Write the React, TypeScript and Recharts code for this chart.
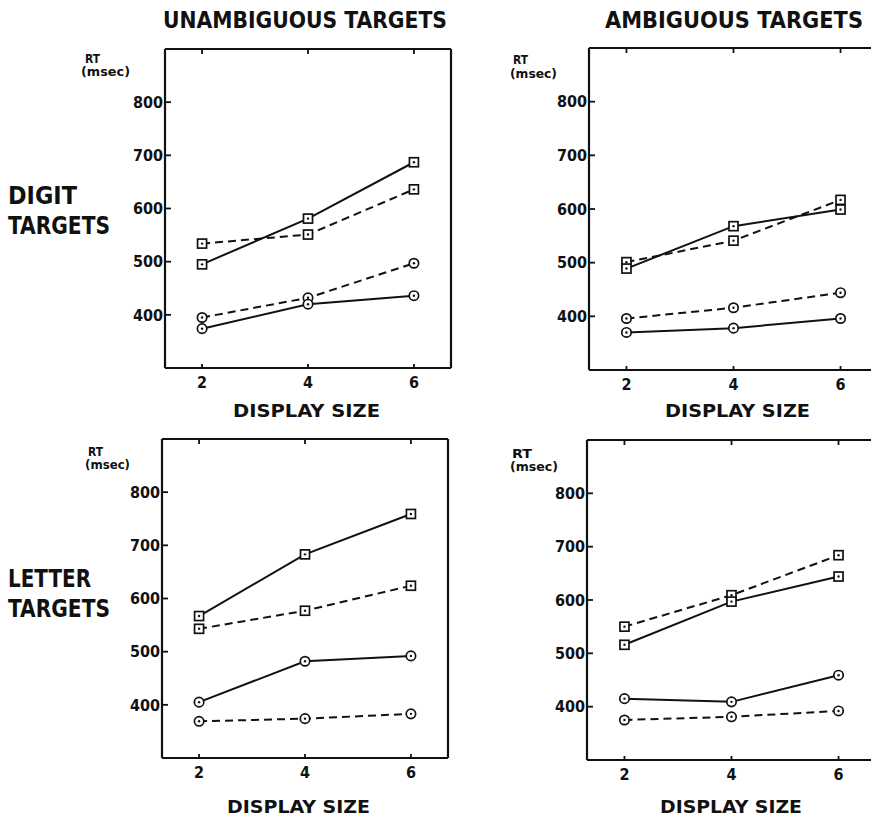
import { Line, LineChart, XAxis, YAxis } from "recharts";

const INK = "#111";
const FONT = '"DejaVu Sans Condensed", "Liberation Sans Narrow", "DejaVu Sans", sans-serif';

const DISPLAY_SIZES = [2, 4, 6];
const RT_TICKS = [400, 500, 600, 700, 800];
const X_DOMAIN = [1.3, 6.7];
const RT_DOMAIN = [300, 900];

// unambiguous targets, digits
const UD_SQUARE_SOLID = [495, 581, 687];
const UD_SQUARE_DASHED = [534, 551, 636];
const UD_CIRCLE_SOLID = [374, 420, 436];
const UD_CIRCLE_DASHED = [395, 432, 497];

// ambiguous targets, digits
const AD_SQUARE_SOLID = [489, 568, 599];
const AD_SQUARE_DASHED = [501, 541, 617];
const AD_CIRCLE_SOLID = [370, 378, 396];
const AD_CIRCLE_DASHED = [396, 416, 444];

// unambiguous targets, letters
const UL_SQUARE_SOLID = [567, 683, 759];
const UL_SQUARE_DASHED = [543, 577, 624];
const UL_CIRCLE_SOLID = [405, 482, 492];
const UL_CIRCLE_DASHED = [369, 374, 383];

// ambiguous targets, letters
const AL_SQUARE_SOLID = [516, 597, 644];
const AL_SQUARE_DASHED = [550, 609, 684];
const AL_CIRCLE_SOLID = [415, 409, 459];
const AL_CIRCLE_DASHED = [375, 381, 392];

// top/right frame axes are 1px thick, so the margins there are 1px less
const MARGIN = { top: 9, right: 9, bottom: 10, left: 10 };
const Y_AXIS_W = 50;
const X_AXIS_H = 30;

function SquareDot(props: any) {
  const { cx, cy } = props;
  if (cx == null || cy == null) return <g />;
  return (
    <g>
      <rect x={cx - 4.5} y={cy - 4.5} width={9} height={9} fill="#fff" stroke={INK} strokeWidth={1.7} />
      <circle cx={cx} cy={cy} r={1.2} fill={INK} />
    </g>
  );
}

function CircleDot(props: any) {
  const { cx, cy } = props;
  if (cx == null || cy == null) return <g />;
  return (
    <g>
      <circle cx={cx} cy={cy} r={4.7} fill="#fff" stroke={INK} strokeWidth={1.7} />
      <circle cx={cx} cy={cy} r={1.2} fill={INK} />
    </g>
  );
}

// top and right frame axes keep their tick marks but draw no labels
const noLabel = () => <g />;

type PanelProps = {
  x: number;
  y: number;
  w: number;
  h: number;
  sqSolid: number[];
  sqDashed: number[];
  ciSolid: number[];
  ciDashed: number[];
};

function Panel({ x, y, w, h, sqSolid, sqDashed, ciSolid, ciDashed }: PanelProps) {
  const data = DISPLAY_SIZES.map((size, i) => ({
    size,
    sqSolid: sqSolid[i],
    sqDashed: sqDashed[i],
    ciSolid: ciSolid[i],
    ciDashed: ciDashed[i],
  }));
  const width = w + MARGIN.left + MARGIN.right + Y_AXIS_W + 1;
  const height = h + MARGIN.top + MARGIN.bottom + X_AXIS_H + 1;
  const tickFont = { fontSize: 16, fontWeight: 700, fill: INK, fontFamily: FONT };
  const frame = { stroke: INK, strokeWidth: 2.2 };
  const inward = { stroke: INK, strokeWidth: 1.8 };

  return (
    <div style={{ position: "absolute", left: x - MARGIN.left - Y_AXIS_W, top: y - MARGIN.top - 1 }}>
      <LineChart width={width} height={height} data={data} margin={MARGIN}>
        {/* negative tick sizes turn the tick marks inward, as in the original */}
        <XAxis
          xAxisId="b"
          dataKey="size"
          type="number"
          domain={X_DOMAIN}
          ticks={DISPLAY_SIZES}
          interval={0}
          height={X_AXIS_H}
          tickSize={-4}
          tickMargin={13}
          tickLine={inward}
          axisLine={frame}
          tick={tickFont}
        />
        <XAxis
          xAxisId="t"
          orientation="top"
          dataKey="size"
          type="number"
          domain={X_DOMAIN}
          ticks={DISPLAY_SIZES}
          interval={0}
          height={1}
          tickSize={-5}
          tickLine={inward}
          axisLine={frame}
          tick={noLabel}
        />
        <YAxis
          yAxisId="l"
          type="number"
          domain={RT_DOMAIN}
          ticks={RT_TICKS}
          interval={0}
          width={Y_AXIS_W}
          tickSize={-6}
          tickMargin={8}
          tickLine={inward}
          axisLine={frame}
          tick={tickFont}
        />
        <YAxis
          yAxisId="r"
          orientation="right"
          type="number"
          domain={RT_DOMAIN}
          ticks={RT_TICKS}
          interval={0}
          width={1}
          tickSize={-5}
          tickLine={inward}
          axisLine={frame}
          tick={noLabel}
        />
        <Line xAxisId="b" yAxisId="l" type="linear" dataKey="ciDashed" stroke={INK} strokeWidth={2} strokeDasharray="8 5" dot={CircleDot} isAnimationActive={false} />
        <Line xAxisId="b" yAxisId="l" type="linear" dataKey="ciSolid" stroke={INK} strokeWidth={2} dot={CircleDot} isAnimationActive={false} />
        <Line xAxisId="b" yAxisId="l" type="linear" dataKey="sqDashed" stroke={INK} strokeWidth={2} strokeDasharray="8 5" dot={SquareDot} isAnimationActive={false} />
        <Line xAxisId="b" yAxisId="l" type="linear" dataKey="sqSolid" stroke={INK} strokeWidth={2} dot={SquareDot} isAnimationActive={false} />
      </LineChart>
    </div>
  );
}

function Txt({ x, y, len, size, children }: any) {
  return (
    <text
      x={x}
      y={y}
      textLength={len}
      lengthAdjust="spacingAndGlyphs"
      fontSize={size}
      fontWeight={700}
      fontFamily={FONT}
      fill={INK}
    >
      {children}
    </text>
  );
}

export default function App() {
  return (
    <div
      style={{
        position: "absolute",
        left: 0,
        top: 0,
        width: 871,
        height: 818,
        overflow: "hidden",
        background: "#fff",
      }}
    >
      <Panel x={165} y={49} w={286} h={319} sqSolid={UD_SQUARE_SOLID} sqDashed={UD_SQUARE_DASHED} ciSolid={UD_CIRCLE_SOLID} ciDashed={UD_CIRCLE_DASHED} />
      <Panel x={589} y={48} w={289} h={322} sqSolid={AD_SQUARE_SOLID} sqDashed={AD_SQUARE_DASHED} ciSolid={AD_CIRCLE_SOLID} ciDashed={AD_CIRCLE_DASHED} />
      <Panel x={162} y={439} w={286} h={319} sqSolid={UL_SQUARE_SOLID} sqDashed={UL_SQUARE_DASHED} ciSolid={UL_CIRCLE_SOLID} ciDashed={UL_CIRCLE_DASHED} />
      <Panel x={587} y={440} w={289} h={320} sqSolid={AL_SQUARE_SOLID} sqDashed={AL_SQUARE_DASHED} ciSolid={AL_CIRCLE_SOLID} ciDashed={AL_CIRCLE_DASHED} />

      <svg
        width={871}
        height={818}
        style={{ position: "absolute", left: 0, top: 0, pointerEvents: "none" }}
      >
        <Txt x={163} y={28} len={284} size={23}>UNAMBIGUOUS TARGETS</Txt>
        <Txt x={605} y={28} len={258} size={23}>AMBIGUOUS TARGETS</Txt>

        <Txt x={8} y={204} len={69} size={24}>DIGIT</Txt>
        <Txt x={8} y={234} len={102} size={24}>TARGETS</Txt>
        <Txt x={8} y={587} len={83} size={24}>LETTER</Txt>
        <Txt x={8} y={617} len={102} size={24}>TARGETS</Txt>

        <Txt x={85} y={63} len={15} size={12}>RT</Txt>
        <Txt x={81} y={76} len={49} size={12}>(msec)</Txt>
        <Txt x={513} y={64} len={15} size={12}>RT</Txt>
        <Txt x={510} y={78} len={47} size={12}>(msec)</Txt>
        <Txt x={88} y={456} len={15} size={12}>RT</Txt>
        <Txt x={85} y={469} len={45} size={12}>(msec)</Txt>
        <Txt x={512} y={458} len={20} size={13}>RT</Txt>
        <Txt x={510} y={471} len={48} size={12}>(msec)</Txt>

        <Txt x={233} y={417} len={147} size={18}>DISPLAY SIZE</Txt>
        <Txt x={665} y={417} len={145} size={18}>DISPLAY SIZE</Txt>
        <Txt x={227} y={813} len={143} size={18}>DISPLAY SIZE</Txt>
        <Txt x={660} y={813} len={142} size={18}>DISPLAY SIZE</Txt>
      </svg>
    </div>
  );
}
